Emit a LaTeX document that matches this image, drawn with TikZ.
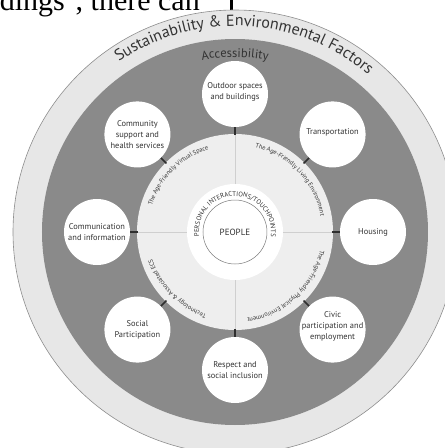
\documentclass[tikz,border=0pt]{standalone}
\usepackage{fontspec}
\newfontfamily\dfont{PT Sans}
\newfontfamily\tfont{Liberation Serif}
\usetikzlibrary{decorations.text}
\definecolor{outerband}{HTML}{E7E7E7}
\definecolor{outerline}{HTML}{8E8E8E}
\definecolor{darkring}{HTML}{8A8A8A}
\definecolor{innerdisk}{HTML}{EEEEEE}
\definecolor{crossc}{HTML}{CFCFCF}
\definecolor{tickc}{HTML}{2E2E2E}
\definecolor{txt}{HTML}{333333}
\definecolor{pplline}{HTML}{7A7A7A}
\begin{document}
\begin{tikzpicture}[x=1pt,y=1pt,
  ball/.style={circle, fill=white, minimum size=66pt, inner sep=0pt},
  lbl/.style={align=center, font=\dfont\fontsize{8.4}{10.8}\selectfont, text=txt, inner sep=0pt},
  tickline/.style={draw=tickc, line width=1.6pt},
  crossline/.style={draw=crossc, line width=0.7pt},
  arctext/.style={decorate, decoration={text along path, text color=txt, text align=center}}]
\useasboundingbox (-235,-216) rectangle (210,232);
\clip (-235,-216) rectangle (210,232);
\fill[white] (-235,-216) rectangle (210,232);
% page text above the figure
\node[anchor=base east, font=\tfont\fontsize{30}{30}\selectfont, inner sep=0pt, text=black] (ptxt) at (-35,222) {buildings'', there can};
\fill[black] (-5,220) rectangle (-2,232);
% rings
\fill[outerband, draw=outerline, line width=0.6pt] (0,0) circle (222);
\fill[darkring] (0,0) circle (193);
\fill[innerdisk] (0,0) circle (98);
\fill[white] (0,0) circle (48);
\draw[pplline, line width=0.5pt] (0,0) circle (32);
% cross lines
\foreach \a in {0,90,180,270} \draw[crossline] (\a:48) -- (\a:98);
% circles
\node[ball] (c1) at (90:138) {};
\node[ball] (c2) at (45:138) {};
\node[ball] (c3) at (0:138) {};
\node[ball] (c4) at (-45:138) {};
\node[ball] (c5) at (-90:138) {};
\node[ball] (c6) at (-135:138) {};
\node[ball] (c7) at (180:138) {};
\node[ball] (c8) at (135:138) {};
\node[lbl] (l1) at ([yshift=2pt]c1) {Outdoor spaces\\and buildings};
\node[lbl] (l2) at ([yshift=2pt]c2) {Transportation};
\node[lbl] (l3) at (c3) {Housing};
\node[lbl] (l4) at ([yshift=3pt]c4) {Civic\\participation and\\employment};
\node[lbl] (l5) at (c5) {Respect and\\social inclusion};
\node[lbl] (l6) at (c6) {Social\\Participation};
\node[lbl] (l7) at (c7) {Communication\\and information};
\node[lbl] (l8) at (c8) {Community\\support and\\health services};
% ticks
\foreach \i/\a in {1/90,2/45,3/0,4/-45,5/-90,6/-135,7/180,8/135} {
  \coordinate (t\i) at (\a:97);
  \draw[tickline] (t\i) -- (c\i);
}
% center
\node[font=\dfont\fontsize{9}{10}\selectfont, text=txt] (people) at (0,0) {PEOPLE};
\path[arctext, decoration={text={|\dfont\fontsize{6.7}{8}\selectfont|PERSONAL INTERACTIONS/TOUCHPOINTS}}]
  (215:36) arc[start angle=215, end angle=-35, radius=36];
% inner disk arc texts
\path[arctext, decoration={text={|\dfont\fontsize{6.3}{7}\selectfont|The Age-Friendly Virtual Space}}]
  (165:87) arc[start angle=165, end angle=105, radius=87];
\path[arctext, decoration={text={|\dfont\fontsize{6.3}{7}\selectfont|The Age-Friendly Living Environment}}]
  (83:87) arc[start angle=83, end angle=4, radius=87];
\path[arctext, decoration={text={|\dfont\fontsize{6.3}{7}\selectfont|The Age-Friendly Physical Environment}}]
  (-4:87) arc[start angle=-4, end angle=-90, radius=87];
\path[arctext, decoration={text={|\dfont\fontsize{6.3}{7}\selectfont|Technology {\&} Associated ECS}}]
  (-104:87) arc[start angle=-104, end angle=-167, radius=87];
% ring texts
\path[arctext, decoration={text={|\dfont\fontsize{12.5}{14}\selectfont|Accessibility}}]
  (110:175) arc[start angle=110, end angle=70, radius=175];
\path[arctext, decoration={text={|\dfont\fontsize{16}{18}\selectfont|Sustainability {\&} Environmental Factors}}]
  (140:206) arc[start angle=140, end angle=34, radius=206];
\end{tikzpicture}
\end{document}
